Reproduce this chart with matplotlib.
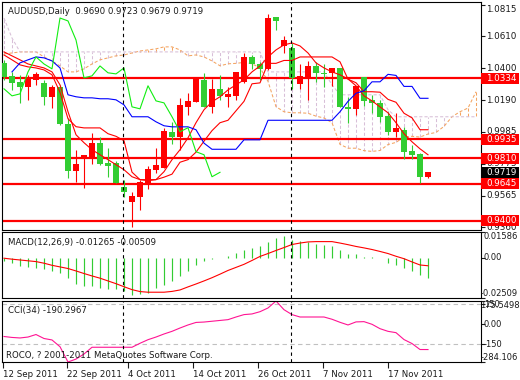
import numpy as np
import matplotlib
matplotlib.use("Agg")
import matplotlib.pyplot as plt
import matplotlib.transforms as mtransforms
from matplotlib.patches import Rectangle

plt.rcParams['font.family'] = ['DejaVu Sans']
nan = np.nan

# ---------------- data ----------------
date_labels = ["12 Sep 2011", "22 Sep 2011", "4 Oct 2011", "14 Oct 2011",
               "26 Oct 2011", "7 Nov 2011", "17 Nov 2011"]
date_bars = [-0.1, 7.9, 15.5, 23.6, 31.8, 39.9, 48.0]

opens = [1.0436, 1.0351, 1.0312, 1.0279, 1.0325, 1.0305, 1.0214, 1.0279, 1.0037, 0.9730,
         0.9808, 0.9821, 0.9913, 0.9782, 0.9782, 0.9625, 0.9527, 0.9560, 0.9651, 0.9736,
         0.9749, 0.9985, 0.9952, 1.0148, 1.0181, 1.0325, 1.0148, 1.0266, 1.0214, 1.0220,
         1.0312, 1.0475, 1.0429, 1.0397, 1.0737, 1.0547, 1.0534, 1.0299, 1.0338, 1.0416,
         1.0371, 1.0371, 1.0403, 1.0148, 1.0135, 1.0344, 1.0194, 1.0174, 1.0089, 0.9985,
         0.9998, 0.9861, 0.9841, 0.9690]
highs = [1.0456, 1.0377, 1.0358, 1.0358, 1.0377, 1.0325, 1.0292, 1.0292, 1.0076, 0.9867,
         0.9834, 0.9978, 0.9952, 0.9880, 0.9795, 0.9671, 0.9592, 0.9671, 0.9762, 0.9880,
         1.0011, 1.0050, 1.0207, 1.0240, 1.0338, 1.0371, 1.0331, 1.0358, 1.0279, 1.0377,
         1.0501, 1.0488, 1.0443, 1.0756, 1.0737, 1.0613, 1.0567, 1.0429, 1.0449, 1.0443,
         1.0429, 1.0403, 1.0403, 1.0214, 1.0286, 1.0344, 1.0227, 1.0194, 1.0116, 1.0109,
         1.0017, 0.9900, 0.9848, 0.9723]
lows = [1.0325, 1.0259, 1.0174, 1.0194, 1.0292, 1.0161, 1.0142, 1.0030, 0.9684, 0.9658,
        0.9618, 0.9775, 0.9769, 0.9690, 0.9651, 0.9560, 0.9363, 0.9475, 0.9612, 0.9717,
        0.9749, 0.9906, 0.9867, 1.0096, 1.0181, 1.0148, 1.0109, 1.0194, 1.0148, 1.0194,
        1.0305, 1.0397, 1.0325, 1.0390, 1.0652, 1.0501, 1.0266, 1.0266, 1.0194, 1.0312,
        1.0279, 1.0286, 1.0148, 1.0044, 1.0096, 1.0155, 1.0109, 1.0050, 0.9965, 0.9952,
        0.9808, 0.9808, 0.9651, 0.9679]
closes = [1.0344, 1.0305, 1.0279, 1.0344, 1.0364, 1.0214, 1.0279, 1.0037, 0.9730, 0.9775,
          0.9834, 0.9913, 0.9775, 0.9762, 0.9651, 0.9592, 0.9566, 0.9658, 0.9743, 0.9769,
          0.9991, 0.9952, 1.0161, 1.0187, 1.0338, 1.0148, 1.0266, 1.0220, 1.0233, 1.0377,
          1.0475, 1.0429, 1.0397, 1.0730, 1.0711, 1.0586, 1.0338, 1.0351, 1.0416, 1.0371,
          1.0364, 1.0403, 1.0148, 1.0135, 1.0286, 1.0187, 1.0174, 1.0083, 0.9985, 1.0011,
          0.9854, 0.9834, 0.9690, 0.9719]

tenkan = [1.0488, 1.0456, 1.0423, 1.0410, 1.0403, 1.0390, 1.0358, 1.0243, 1.0070, 1.0018,
          1.0010, 1.0010, 1.0010, 0.9972, 0.9955, 0.9926, 0.9720, 0.9671, 0.9671, 0.9671,
          0.9687, 0.9707, 0.9785, 0.9802, 0.9851, 0.9923, 0.9992, 1.0044, 1.0060, 1.0122,
          1.0184, 1.0299, 1.0305, 1.0433, 1.0433, 1.0452, 1.0452, 1.0475, 1.0475, 1.0475,
          1.0475, 1.0475, 1.0443, 1.0329, 1.0306, 1.0247, 1.0247, 1.0244, 1.0197, 1.0178,
          1.0106, 1.0076, 0.9998, 0.9998]
kijun = [nan, 1.0377, 1.0436, 1.0456, 1.0475, 1.0469, 1.0449, 1.0403, 1.0227, 1.0214,
         1.0207, 1.0207, 1.0201, 1.0201, 1.0194, 1.0161, 1.0083, 1.0083, 1.0083, 1.0050,
         1.0024, 1.0017, 1.0017, 1.0017, 0.9998, 0.9910, 0.9870, 0.9870, 0.9870, 0.9870,
         0.9932, 0.9932, 0.9932, 1.0060, 1.0060, 1.0060, 1.0060, 1.0060, 1.0060, 1.0060,
         1.0060, 1.0060, 1.0116, 1.0184, 1.0237, 1.0253, 1.0312, 1.0312, 1.0361, 1.0354,
         1.0282, 1.0282, 1.0204, 1.0204]
ma_fast = [1.0508, 1.0482, 1.0456, 1.0429, 1.0416, 1.0403, 1.0377, 1.0292, 1.0116, 0.9965,
           0.9913, 0.9867, 0.9834, 0.9802, 0.9769, 0.9736, 0.9690, 0.9671, 0.9664, 0.9671,
           0.9723, 0.9802, 0.9867, 0.9945, 1.0044, 1.0129, 1.0181, 1.0214, 1.0259, 1.0292,
           1.0325, 1.0377, 1.0416, 1.0475, 1.0521, 1.0554, 1.0567, 1.0547, 1.0501, 1.0436,
           1.0403, 1.0377, 1.0358, 1.0331, 1.0286, 1.0220, 1.0187, 1.0148, 1.0109, 1.0044,
           0.9972, 0.9919, 0.9873, 0.9834]
chikou_shift = 26

senkou_a = [1.0495, 1.0501, 1.0508, 1.0508, 1.0508, 1.0475, 1.0449, 1.0416, 1.0377, 1.0377,
            1.0397, 1.0429, 1.0456, 1.0469, 1.0482, 1.0488, 1.0501, 1.0514, 1.0521, 1.0528,
            1.0541, 1.0541, 1.0521, 1.0482, 1.0488, 1.0475, 1.0449, 1.0417, 1.0430, 1.0433,
            1.0439, 1.0430, 1.0404, 1.0315, 1.0149, 1.0116, 1.0109, 1.0109, 1.0106, 1.0087,
            1.0075, 1.0044, 0.9902, 0.9877, 0.9877, 0.9861, 0.9856, 0.9862, 0.9901, 0.9915,
            0.9950, 0.9955, 0.9950, 0.9970, 0.9980, 1.0020, 1.0083, 1.0116, 1.0140, 1.0247]
senkou_b = [1.0730, 1.0599, 1.0508, 1.0508, 1.0508, 1.0508, 1.0508, 1.0508, 1.0508, 1.0508,
            1.0508, 1.0508, 1.0508, 1.0508, 1.0508, 1.0508, 1.0508, 1.0508, 1.0508, 1.0508,
            1.0508, 1.0508, 1.0508, 1.0508, 1.0508, 1.0508, 1.0508, 1.0508, 1.0508, 1.0508,
            1.0508, 1.0508, 1.0508, 1.0377, 1.0377, 1.0377, 1.0377, 1.0377, 1.0377, 1.0377,
            1.0377, 1.0292, 1.0227, 1.0227, 1.0227, 1.0227, 1.0227, 1.0227, 1.0129, 1.0083,
            1.0083, 1.0083, 1.0083, 1.0083, 1.0083, 1.0083, 1.0083, 1.0083, 1.0083, 1.0083]

levels = [1.0334, 0.9935, 0.9810, 0.9645, 0.9400]
last_price = 0.9719
price_ticks = [1.0815, 1.0610, 1.0400, 1.0190, 0.9985, 0.9775, 0.9565, 0.9360]
separators = [14.875, 35.875]

macd_hist = [-0.0023, -0.0033, -0.0054, -0.0060, -0.0064, -0.0074, -0.0085, -0.0095, -0.0126, -0.0167,
             -0.0178, -0.0178, -0.0188, -0.0192, -0.0198, -0.0209, -0.0234, -0.0229, -0.0219, -0.0188,
             -0.0172, -0.0143, -0.0116, -0.0081, -0.0048, -0.0023, -0.0006, -0.0005, 0.0008, 0.0029,
             0.0050, 0.0060, 0.0070, 0.0097, 0.0122, 0.0132, 0.0112, 0.0101, 0.0097, 0.0087,
             0.0076, 0.0070, 0.0045, 0.0019, 0.0019, 0.0004, 0.0002, -0.0002, -0.0033, -0.0048,
             -0.0064, -0.0085, -0.0110, -0.01265]
macd_signal = [-0.0004, -0.0010, -0.0015, -0.0020, -0.0025, -0.0035, -0.0048, -0.0058, -0.0068, -0.0083,
               -0.0099, -0.0114, -0.0128, -0.0145, -0.0162, -0.0181, -0.0199, -0.0211, -0.0215, -0.0215,
               -0.0215, -0.0210, -0.0201, -0.0182, -0.0164, -0.0145, -0.0125, -0.0103, -0.0080, -0.0061,
               -0.0042, -0.0018, 0.0007, 0.0025, 0.0044, 0.0062, 0.0081, 0.0090, 0.0097, 0.0099,
               0.0099, 0.0099, 0.0090, 0.0080, 0.0069, 0.0060, 0.0050, 0.0038, 0.0025, 0.0008,
               -0.0007, -0.0027, -0.0046, -0.00509]
macd_range = [-0.02509, 0.01586]

cci = [-92, -99, -103, -96, -77, -107, -118, -169, -284.1, -262,
       -224, -173, -173, -173, -173, -173, -173, -143, -116, -96,
       -73, -53, -28, -5, 14, 17, 23, 29, 35, 55,
       73, 78, 95, 123, 175.5, 110, 73, 55, 55, 55,
       55, 38, 15, -5, 18, 20, 0, -33, -53, -63,
       -115, -145, -190, -190.2967]
cci_range = [-284.106, 175.5498]
cci_levels = [150, -150]

# ---------------- layout ----------------
W, H = 520, 380
fig = plt.figure(figsize=(W / 100, H / 100), dpi=100)
fig.patch.set_facecolor('white')


def rect(l, t, r, b):
    return [l / W, 1 - b / H, (r - l) / W, (b - t) / H]


ax = fig.add_axes(rect(2, 2, 481, 230))
axm = fig.add_axes(rect(2, 232, 481, 298))
axc = fig.add_axes(rect(2, 301, 481, 362))

XL = (-0.25, 59.625)
TXT = '#1a1a1a'
FS = 6.2
FSR = 6.0
RED = '#ff0000'
GRN = '#32cd32'
PXX = 1.0 / 479.0   # one pixel in axes-x units

for a in (ax, axm, axc):
    a.set_xlim(*XL)
    for s in a.spines.values():
        s.set_color('black')
        s.set_linewidth(0.8)
    a.yaxis.tick_right()
    a.tick_params(axis='y', direction='out', length=3, width=0.8,
                  labelright=False, labelleft=False, colors=TXT)
    a.tick_params(axis='x', bottom=False, labelbottom=False)
    for xs in separators:
        a.axvline(xs, color='black', lw=0.8, ls=(0, (3, 3)), zorder=6)


def right_labels(a, vals, texts, starts, vas, fs):
    tr = mtransforms.blended_transform_factory(a.transAxes, a.transData)
    for v, t, s, va in zip(vals, texts, starts, vas):
        a.text(1.0 + (s - 481) * PXX, v, t, transform=tr, fontsize=fs, color=TXT,
               ha='left', va=va, clip_on=False, zorder=8)


# ---------------- main panel ----------------
ylo, yhi = 0.9341, 1.0835
ax.set_ylim(ylo, yhi)
n = len(closes)
x = np.arange(n)
xc = np.arange(len(senkou_a))

# cloud hatching
for j in xc:
    a_, b_ = senkou_a[j], senkou_b[j]
    col = '#d8bfd8' if b_ >= a_ else '#f4a460'
    ax.plot([j, j], [a_, b_], color=col, lw=0.75, ls=(0, (3, 2)), zorder=1)
ax.plot(xc, senkou_a, color='#f4a460', lw=0.75, ls=(0, (3, 2)), zorder=1.5)
ax.plot(xc, senkou_b, color='#d8bfd8', lw=0.75, ls=(0, (3, 2)), zorder=1.5)

# support / resistance
for lv in levels:
    ax.axhline(lv, color=RED, lw=1.6, zorder=2)

# candles
for i in range(n):
    o, h, l, c = opens[i], highs[i], lows[i], closes[i]
    col = RED if c >= o else GRN
    ax.plot([i, i], [l, h], color=col, lw=0.8, zorder=3, solid_capstyle='butt')
    bot = min(o, c)
    ht = max(abs(c - o), 0.0007)
    ax.bar(i, ht, bottom=bot, width=0.68, color=col, edgecolor=col, lw=0, zorder=3.5)

# indicator lines
ax.plot(x, tenkan, color=RED, lw=0.8, zorder=4)
ax.plot(x, ma_fast, color=RED, lw=0.8, zorder=4)
ax.plot(x, kijun, color='#0000ff', lw=0.8, zorder=4)
chik = closes[chikou_shift:]
ax.plot(np.arange(len(chik)), chik, color='#11ee11', lw=0.8, zorder=4)

ax.set_yticks(price_ticks)
vas = ['top'] + ['center'] * (len(price_ticks) - 1)
right_labels(ax, price_ticks, ['%.4f' % v for v in price_ticks],
             [486] * len(price_ticks), vas, 6.3)

blend = mtransforms.blended_transform_factory(ax.transAxes, ax.transData)
px_y = (yhi - ylo) / 228


def price_box(val, fc):
    ax.add_patch(Rectangle((1.0, val - 5.5 * px_y), 38 * PXX, 11 * px_y,
                           transform=blend, facecolor=fc, edgecolor='none',
                           clip_on=False, zorder=10))
    ax.text(1.0 + 5 * PXX, val, '%.4f' % val, transform=blend, color='white',
            fontsize=6.3, va='center', ha='left', clip_on=False, zorder=11)


for lv in levels:
    price_box(lv, RED)
price_box(last_price, 'black')

fig.text(8 / W, 1 - 11 / H, 'AUDUSD,Daily  0.9690 0.9723 0.9679 0.9719',
         fontsize=FS, color=TXT, va='center', ha='left')

# ---------------- MACD ----------------
axm.set_ylim(*macd_range)
axm.vlines(x, 0, macd_hist, color='#33cc33', lw=0.85)
axm.plot(x, macd_signal, color=RED, lw=0.8)
axm.set_yticks([macd_range[1], 0.0, macd_range[0]])
right_labels(axm, [macd_range[1], 0.0, macd_range[0]],
             ['%.5f' % macd_range[1], '0.00', '%.5f' % macd_range[0]],
             [484, 484, 481], ['top', 'center', 'bottom'], FSR)
fig.text(8 / W, 1 - 242 / H, 'MACD(12,26,9) -0.01265 -0.00509',
         fontsize=FS, color=TXT, va='center', ha='left')

# ---------------- CCI ----------------
axc.set_ylim(*cci_range)
for lv in cci_levels:
    axc.axhline(lv, color='#c0c0c0', lw=0.8, ls=(0, (4, 3)))
axc.plot(x, cci, color='#ff1493', lw=0.8)
axc.set_yticks([cci_range[1], 150, 0, -150, cci_range[0]])
right_labels(axc, [cci_range[1], 150, 0, -150, cci_range[0]],
             ['%.4f' % cci_range[1], '150', '0.00', '-150', '%.3f' % cci_range[0]],
             [480, 484, 484, 484, 481], ['top', 'center', 'center', 'center', 'bottom'], FSR)
fig.text(8 / W, 1 - 311 / H, 'CCI(34) -190.2967',
         fontsize=FS, color=TXT, va='center', ha='left')
fig.text(6 / W, 1 - 355 / H, 'ROCO, ? 2001-2011 MetaQuotes Software Corp.',
         fontsize=FS, color=TXT, va='center', ha='left')

axc.tick_params(axis='x', bottom=True, labelbottom=True, direction='out', length=4,
                width=0.8, labelsize=FS, colors=TXT, pad=1.5)
axc.set_xticks(date_bars)
axc.set_xticklabels(date_labels)
for t in axc.get_xticklabels():
    t.set_ha('left')

fig.savefig('out.png', dpi=100)
